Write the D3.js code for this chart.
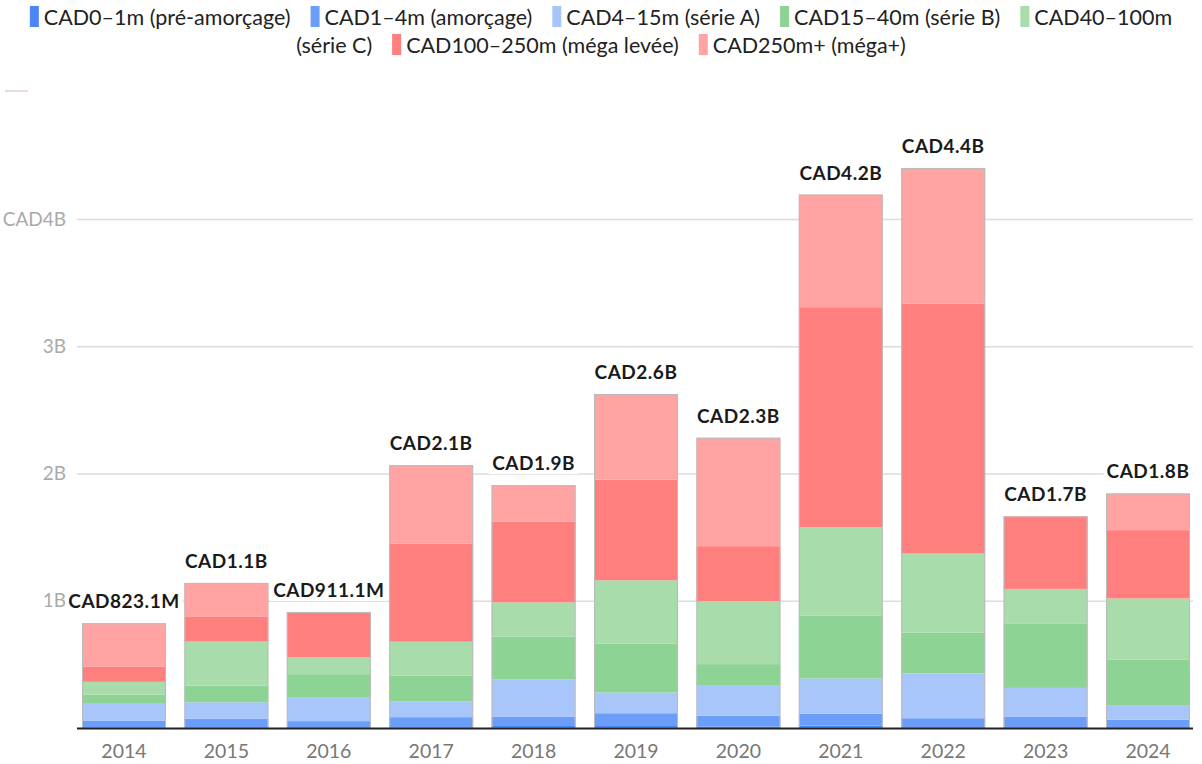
<!DOCTYPE html>
<html>
<head>
<meta charset="utf-8">
<script src="https://cdn.jsdelivr.net/npm/d3@7"></script>
<style>
  body { margin: 0; background: #fff; }
  svg { display: block; font-family: Lato, "Noto Sans", sans-serif; }
</style>
</head>
<body>
<svg id="chart" width="1202" height="764"></svg>
<script>
// years on the x axis
const years = ['2014', '2015', '2016', '2017', '2018', '2019', '2020', '2021', '2022', '2023', '2024'];

// funding rounds, bottom to top of each stack
const seriesNames = [
    'CAD0–1m (pré-amorçage)',
    'CAD1–4m (amorçage)',
    'CAD4–15m (série A)',
    'CAD15–40m (série B)',
    'CAD40–100m (série C)',
    'CAD100–250m (méga levée)',
    'CAD250m+ (méga+)'
];
const seriesColors = ['#4a87f5', '#6b9ef8', '#a9c6fb', '#8dd394', '#a8dcab', '#ff7f7f', '#ffa3a3'];

// values in CAD millions
const preSeed = [6, 6, 8, 6, 22, 22, 12, 20, 8, 8, 8];
const seed = [53, 66, 46, 79, 68, 94, 84, 92, 69, 82, 57];
const seriesA = [131, 130, 184, 126, 293, 163, 236, 277, 353, 225, 110];
const seriesB = [73, 131, 185, 202, 335, 385, 170, 493, 320, 503, 364];
const seriesC = [100, 346, 131, 265, 269, 497, 495, 694, 621, 275, 479];
const mega = [118, 194, 357.1, 772, 636, 791, 432, 1731, 1962, 570, 537];
const megaPlus = [342.1, 267, 0, 615, 286, 673, 852, 885, 1068, 0, 288];

const yTicks = [1000, 2000, 3000, 4000];

const columns = [preSeed, seed, seriesA, seriesB, seriesC, mega, megaPlus];

const svg = d3.select('#chart');

// ---- legend (wraps onto two centred lines like the original)
const legendFont = 21.5;
const legendLines = [
    [{ sw: 0, text: seriesNames[0] }, { sw: 1, text: seriesNames[1] }, { sw: 2, text: seriesNames[2] },
     { sw: 3, text: seriesNames[3] }, { sw: 4, text: 'CAD40–100m' }],
    [{ sw: null, text: '(série C)' }, { sw: 5, text: seriesNames[5] }, { sw: 6, text: seriesNames[6] }]
];
const legend = svg.append('g').attr('class', 'legend');
legendLines.forEach(function (line, li) {
    let row = legend.append('g');
    let cx = 0;
    let cy = 17 + li * 28;
    line.forEach(function (item, i) {
        if (i > 0) cx += 20;
        if (item.sw != null) {
            row.append('rect')
                .attr('x', cx).attr('y', cy - 11)
                .attr('width', 9).attr('height', 21)
                .attr('fill', seriesColors[item.sw]);
            cx += 14;
        }
        let t = row.append('text')
            .attr('x', cx).attr('y', cy)
            .attr('dy', '0.35em')
            .attr('font-size', legendFont)
            .attr('fill', '#222')
            .text(item.text);
        cx += t.node().getComputedTextLength();
    });
    row.attr('transform', 'translate(' + ((1202 - cx) / 2) + ',0)');
});

// small stray rule under the legend
svg.append('line')
    .attr('x1', 5).attr('x2', 28).attr('y1', 91).attr('y2', 91)
    .attr('stroke', '#e6d2d2').attr('stroke-width', 1.5);

// ---- scales
const x = d3.scaleBand()
    .domain(years)
    .range([82, 1190])
    .paddingInner(0.18)
    .paddingOuter(0);

const y = d3.scaleLinear()
    .domain([0, 4000])
    .range([728, 219]);

const gridLeft = 77, gridRight = 1193;

// grid + y labels
const yAxis = d3.axisLeft(y)
    .tickValues(yTicks)
    .tickSize(-(gridRight - gridLeft))
    .tickPadding(11)
    .tickFormat(function (d) { return (d === 4000 ? 'CAD' : '') + (d / 1000) + 'B'; });
const gY = svg.append('g')
    .attr('transform', 'translate(' + gridLeft + ',0)')
    .call(yAxis);
gY.select('.domain').remove();
gY.selectAll('.tick line').attr('stroke', '#dcdcdc').attr('stroke-width', 1.5);
gY.selectAll('.tick text')
    .attr('fill', '#aaa')
    .attr('font-size', 19)
    .attr('font-family', 'Lato, "Noto Sans", sans-serif');

// ---- stacked bars
const rows = years.map(function (yr, i) {
    let r = { year: yr };
    columns.forEach(function (col, k) { r['s' + k] = col[i]; });
    return r;
});
const keys = columns.map(function (c, k) { return 's' + k; });
const stacked = d3.stack().keys(keys)(rows);

const bars = svg.append('g').attr('class', 'bars');
stacked.forEach(function (layer, k) {
    bars.append('g')
        .attr('fill', seriesColors[k])
        .selectAll('rect')
        .data(layer)
        .join('rect')
        .attr('x', d => x(d.data.year))
        .attr('width', x.bandwidth())
        .attr('y', d => y(d[1]))
        .attr('height', d => Math.max(0, y(d[0]) - y(d[1])));
});

const totals = rows.map(function (r) {
    return { year: r.year, total: d3.sum(keys, k => r[k]) };
});

// thin outline round each bar
bars.append('g')
    .selectAll('rect')
    .data(totals)
    .join('rect')
    .attr('x', d => x(d.year) + 0.5)
    .attr('width', x.bandwidth() - 1)
    .attr('y', d => y(d.total) + 0.5)
    .attr('height', d => y(0) - y(d.total) - 0.5)
    .attr('fill', 'none')
    .attr('stroke', '#bbb')
    .attr('stroke-width', 1);

// baseline
svg.append('line')
    .attr('x1', gridLeft).attr('x2', gridRight)
    .attr('y1', y(0) + 0.5).attr('y2', y(0) + 0.5)
    .attr('stroke', '#222').attr('stroke-width', 2);

// x axis labels
const xAxis = d3.axisBottom(x).tickSize(0).tickPadding(16);
const gX = svg.append('g')
    .attr('transform', 'translate(0,' + y(0) + ')')
    .call(xAxis);
gX.select('.domain').remove();
gX.selectAll('.tick text')
    .attr('fill', '#777')
    .attr('font-size', 19.5)
    .attr('font-family', 'Lato, "Noto Sans", sans-serif');

// ---- total labels with white backing
function fmtTotal(v) {
    return v < 1000 ? 'CAD' + v.toFixed(1) + 'M' : 'CAD' + (v / 1000).toFixed(1) + 'B';
}
const labels = svg.append('g').attr('class', 'labels');
totals.forEach(function (d) {
    let g = labels.append('g');
    let t = g.append('text')
        .attr('x', x(d.year) + x.bandwidth() / 2)
        .attr('y', y(d.total) - 15)
        .attr('text-anchor', 'middle')
        .attr('font-size', 19)
        .attr('font-weight', 'bold')
        .attr('letter-spacing', 0.5)
        .attr('fill', '#1a1a1a')
        .text(fmtTotal(d.total));
    let bb = t.node().getBBox();
    g.insert('rect', 'text')
        .attr('x', bb.x - 3).attr('y', bb.y)
        .attr('width', bb.width + 6).attr('height', bb.height)
        .attr('fill', '#fff');
});
</script>
</body>
</html>
